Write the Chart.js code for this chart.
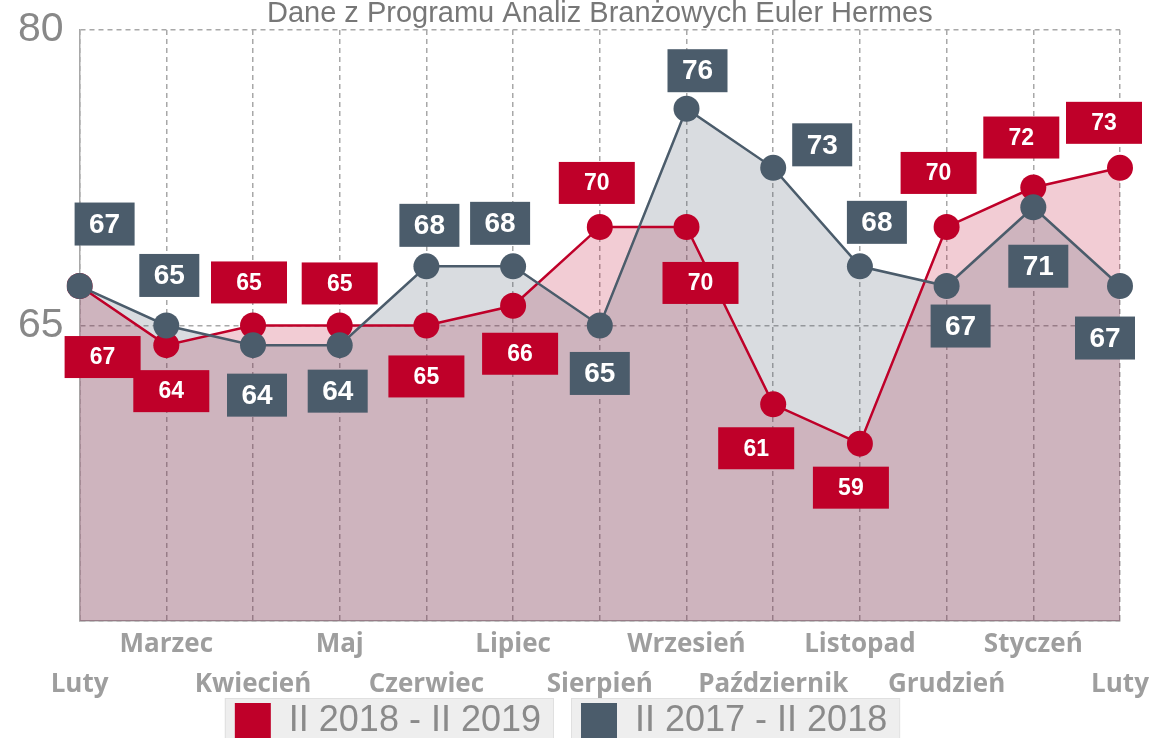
<!DOCTYPE html>
<html>
<head>
<meta charset="utf-8">
<script src="https://cdn.jsdelivr.net/npm/chart.js@4.4.0/dist/chart.umd.min.js"></script>
<style>
html,body{margin:0;padding:0;background:#fff;}
#wrap{width:1157px;height:738px;}
</style>
</head>
<body>
<div id="wrap"><canvas id="c" width="1157" height="738"></canvas></div>
<script>
const months = [['', 'Luty'], ['Marzec', ''], ['', 'Kwiecień'], ['Maj', ''], ['', 'Czerwiec'], ['Lipiec', ''], ['', 'Sierpień'], ['Wrzesień', ''], ['', 'Październik'], ['Listopad', ''], ['', 'Grudzień'], ['Styczeń', ''], ['', 'Luty']];
const series2018 = [67, 64, 65, 65, 65, 66, 70, 70, 61, 59, 70, 72, 73];
const series2017 = [67, 65, 64, 64, 68, 68, 65, 76, 73, 68, 67, 71, 67];
const seriesNames = ['II 2018 - II 2019', 'II 2017 - II 2018'];
const yTicks = [50, 65, 80];
const chartTitle = 'Dane z Programu Analiz Branżowych Euler Hermes';

// label box placement (pixel offsets from the point)
const labelDx2018 = [23, 5, -4, 0, 0, 7, -3, 14, -17, -9, -8, -12, -16];
const labelDy2018 = [71, 46, -43, -42, 51, 48, -44, 56, 44, 44, -54, -50, -45];
const labelDx2017 = [25, 3, 4, -2, 3, -13, 0, 11, 49, 17, 14, 5, -15];
const labelDy2017 = [-62, -50, 50, 46, -41, -43, 48, -38, -23, -44, 40, 59, 52];

const RED = '#bf0029';
const GRAY = '#4b5c6b';

const labelPlugin = {
  id: 'boxLabels',
  afterDatasetsDraw(chart) {
    const ctx = chart.ctx;
    const cfgs = [
      {di: 0, dx: labelDx2018, dy: labelDy2018, w: 76, h: 42, color: RED, font: 'bold 23px "Liberation Sans", Arial, sans-serif'},
      {di: 1, dx: labelDx2017, dy: labelDy2017, w: 60, h: 43, color: GRAY, font: 'bold 28px "Liberation Sans", Arial, sans-serif'}
    ];
    cfgs.forEach(c => {
      const meta = chart.getDatasetMeta(c.di);
      const data = chart.data.datasets[c.di].data;
      meta.data.forEach((pt, i) => {
        const cx = pt.x + c.dx[i];
        const cy = pt.y + c.dy[i];
        ctx.save();
        ctx.fillStyle = c.color;
        ctx.fillRect(cx - c.w / 2, cy - c.h / 2, c.w, c.h);
        ctx.fillStyle = '#ffffff';
        ctx.font = c.font;
        ctx.textAlign = 'center';
        ctx.textBaseline = 'middle';
        ctx.fillText(String(data[i]), cx, cy + 1);
        ctx.restore();
      });
    });
  }
};

const legendBgPlugin = {
  id: 'legendBg',
  beforeDraw(chart) {
    // let the two-row month labels run past the axis box
    if (chart.scales.x) chart.scales.x._computeLabelArea = () => undefined;
    const lg = chart.legend;
    if (!lg || !lg.legendHitBoxes) return;
    const ctx = chart.ctx;
    ctx.save();
    lg.legendHitBoxes.forEach(b => {
      ctx.fillStyle = '#eeeeee';
      ctx.strokeStyle = '#e0e0e0';
      ctx.lineWidth = 1;
      ctx.fillRect(b.left - 10, b.top - 5, b.width + 22, b.height + 20);
      ctx.strokeRect(b.left - 10 + 0.5, b.top - 5 + 0.5, b.width + 22, b.height + 20);
    });
    ctx.restore();
  }
};

new Chart(document.getElementById('c'), {
  type: 'line',
  data: {
    labels: months,
    datasets: [
      {
        label: seriesNames[0],
        data: series2018,
        borderColor: RED,
        backgroundColor: 'rgba(191,0,41,0.20)',
        pointBackgroundColor: RED,
        pointBorderColor: RED,
        pointBorderWidth: 0,
        pointRadius: 13,
        borderWidth: 2.5,
        tension: 0,
        fill: 'start',
        order: 2
      },
      {
        label: seriesNames[1],
        data: series2017,
        borderColor: GRAY,
        backgroundColor: 'rgba(75,92,107,0.21)',
        pointBackgroundColor: GRAY,
        pointBorderColor: GRAY,
        pointBorderWidth: 0,
        pointRadius: 13,
        borderWidth: 2.5,
        tension: 0,
        fill: 'start',
        order: 1
      }
    ]
  },
  options: {
    responsive: false,
    animation: false,
    layout: {padding: {left: 2, right: 37, top: -2, bottom: -11}},
    plugins: {
      tooltip: {enabled: false},
      filler: {drawTime: 'beforeDatasetsDraw'},
      title: {
        display: true,
        fullSize: false,
        text: chartTitle,
        color: '#777777',
        font: {family: '"Liberation Sans", Arial, sans-serif', size: 29, weight: 'normal', lineHeight: 1.1},
        padding: {top: 0, bottom: 0}
      },
      legend: {
        display: true,
        position: 'bottom',
        labels: {
          boxWidth: 36,
          boxHeight: 36,
          padding: 40,
          color: '#8a8a8a',
          font: {family: '"Liberation Sans", Arial, sans-serif', size: 36},
          generateLabels: (chart) => Chart.defaults.plugins.legend.labels.generateLabels(chart).map(l => Object.assign({}, l, {fillStyle: l.strokeStyle, lineWidth: 0})),
          sort: (a, b) => a.datasetIndex - b.datasetIndex
        }
      }
    },
    scales: {
      x: {
        type: 'category',
        offset: false,
        grid: {color: '#a8a8a8', lineWidth: 1.5, drawTicks: false},
        border: {display: true, color: '#a8a8a8', width: 1.5, dash: [5, 4]},
        ticks: {
          autoSkip: false,
          maxRotation: 0,
          minRotation: 0,
          padding: 4,
          color: '#9e9e9e',
          font: {family: '"Open Sans", sans-serif', size: 26, weight: 'bold', lineHeight: 1.54}
        },
        afterFit: (scale) => { scale.height = 42; }
      },
      y: {
        min: yTicks[0],
        max: yTicks[2],
        afterBuildTicks: (scale) => { scale.ticks = yTicks.map(v => ({value: v})); },
        grid: {color: '#a8a8a8', lineWidth: 1.5, drawTicks: false},
        border: {display: true, color: '#a8a8a8', width: 1.5, dash: [5, 4]},
        ticks: {
          padding: 16,
          color: '#888888',
          font: {family: '"Liberation Sans", Arial, sans-serif', size: 41, lineHeight: 0.6},
          callback: (v) => (v === yTicks[0] ? '' : String(v))
        }
      }
    }
  },
  plugins: [legendBgPlugin, labelPlugin]
});
</script>
</body>
</html>
